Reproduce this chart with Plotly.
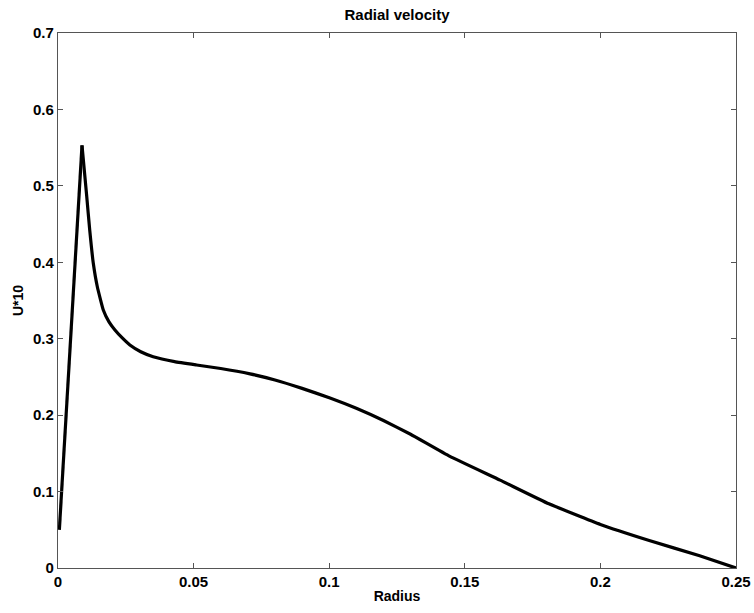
import plotly.graph_objects as go

radius = [0.0005, 0.00885, 0.0106, 0.0117, 0.0130, 0.0145, 0.0167, 0.0188, 0.0210,
          0.0237, 0.0265, 0.0305, 0.0351, 0.0430, 0.0511, 0.0600, 0.0708, 0.0800,
          0.0900, 0.1003, 0.1100, 0.1200, 0.1300, 0.1445, 0.1630, 0.1810, 0.2000,
          0.2180, 0.2366, 0.2500]
u10 = [0.050, 0.553, 0.486, 0.442, 0.399, 0.368, 0.3376, 0.322, 0.3114,
       0.301, 0.2918, 0.283, 0.2765, 0.270, 0.2656, 0.261, 0.254, 0.246,
       0.235, 0.2225, 0.209, 0.193, 0.175, 0.146, 0.115, 0.084, 0.057,
       0.036, 0.016, 0.0]

x_ticks = [0, 0.05, 0.1, 0.15, 0.2, 0.25]
x_labels = ["0", "0.05", "0.1", "0.15", "0.2", "0.25"]
y_ticks = [0, 0.1, 0.2, 0.3, 0.4, 0.5, 0.6, 0.7]
y_labels = ["0", "0.1", "0.2", "0.3", "0.4", "0.5", "0.6", "0.7"]

fam = "Liberation Sans, Arial, sans-serif"
line_style = dict(color="black", width=3.2)

fig = go.Figure()
# rising segment up to the sharp peak
fig.add_trace(go.Scatter(x=radius[:2], y=u10[:2], mode="lines", line=line_style))
# smooth decay after the peak
fig.add_trace(go.Scatter(x=radius[1:], y=u10[1:], mode="lines",
                         line=dict(**line_style, shape="spline", smoothing=0.35)))

axis_common = dict(showline=True, linecolor="#555555", linewidth=1.2, mirror="ticks",
                   ticks="inside", ticklen=5, tickcolor="#555555", tickwidth=1,
                   showgrid=False, zeroline=False, automargin=False,
                   tickfont=dict(family=fam, size=15, color="black", weight="bold"))

fig.update_layout(
    width=754, height=613,
    margin=dict(l=58, r=18, t=33, b=45, autoexpand=False),
    paper_bgcolor="white", plot_bgcolor="white",
    showlegend=False,
    title=dict(text="<b>Radial velocity</b>", x=0.5265, xanchor="center", y=0.9755, yanchor="middle",
               font=dict(family=fam, size=15, color="black")),
    xaxis=dict(range=[0, 0.25], tickvals=x_ticks, ticktext=x_labels,
               title=dict(text="<b>Radius</b>", standoff=2,
                          font=dict(family=fam, size=14, color="black")),
               **axis_common),
    yaxis=dict(range=[0, 0.7], tickvals=y_ticks, ticktext=y_labels,
               title=dict(text="<b>U*10</b>", standoff=6,
                          font=dict(family=fam, size=14, color="black")),
               **axis_common),
)

# remove the default 8px page margin so the figure fills the window exactly
fig.write_html("out.html", config={"displayModeBar": False},
               post_script="document.body.style.margin='0';document.body.style.overflow='hidden';")
